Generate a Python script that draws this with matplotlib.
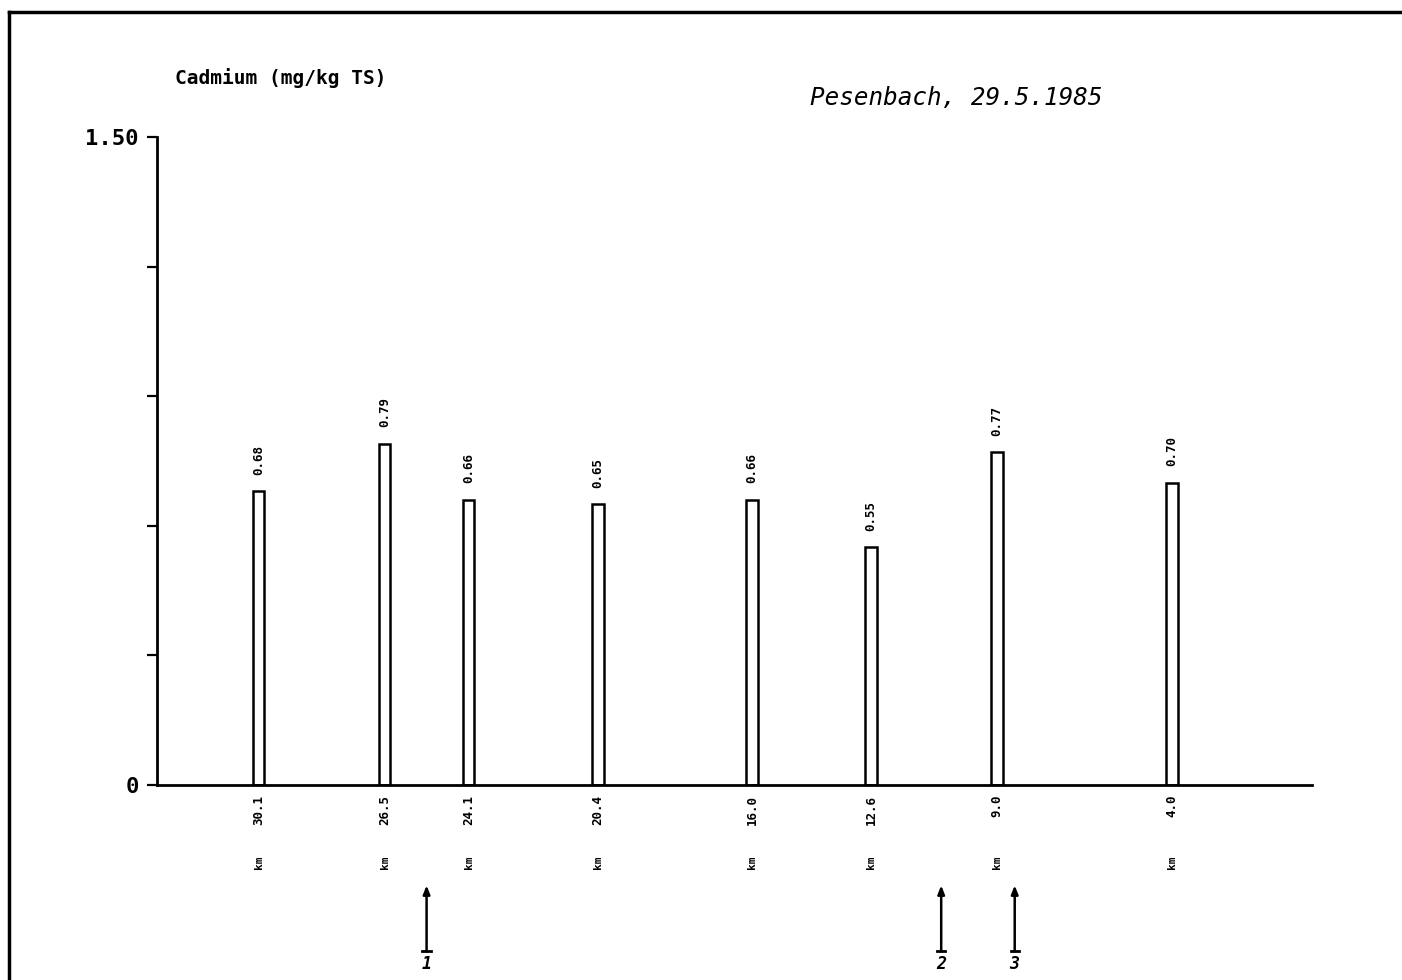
"""Cadmium in sediment along the Pesenbach, 29.5.1985."""

import matplotlib

matplotlib.use("Agg")

import matplotlib.pyplot as plt
from matplotlib.lines import Line2D

KM = [30.1, 26.5, 24.1, 20.4, 16.0, 12.6, 9.0, 4.0]
CADMIUM = [0.68, 0.79, 0.66, 0.65, 0.66, 0.55, 0.77, 0.70]
Y_TICKS = [0.0, 0.3, 0.6, 0.9, 1.2, 1.5]
Y_TICK_LABELS = ["0", "", "", "", "", "1.50"]
ARROW_KM = [25.3, 10.6, 8.5]
ARROW_LABELS = ["1", "2", "3"]

MONO = "DejaVu Sans Mono"


def main() -> None:
    fig = plt.figure(figsize=(14.02, 9.80), dpi=100)
    ax = fig.add_axes([0.112, 0.199, 0.824, 0.661])

    ax.bar(KM, CADMIUM, width=0.33, facecolor="white", edgecolor="black", linewidth=1.8)

    for km, val in zip(KM, CADMIUM):
        ax.annotate(f"{val:.2f}", (km, val), xytext=(0, 12), textcoords="offset points",
                    rotation=90, ha="center", va="bottom", fontsize=9,
                    fontweight="bold", family=MONO)

    ax.set_xlim(33.0, 0.0)
    ax.set_ylim(0, 1.5)

    ax.set_xticks(KM)
    ax.set_xticklabels([f"{k:.1f}" for k in KM], rotation=90, fontsize=9,
                       fontweight="bold", family=MONO)
    ax.tick_params(axis="x", length=0, pad=7)
    ax.set_yticks(Y_TICKS)
    ax.set_yticklabels(Y_TICK_LABELS, fontsize=16, fontweight="bold", family=MONO)
    ax.tick_params(axis="y", direction="out", length=7, width=1.6, pad=6)

    for side in ("top", "right"):
        ax.spines[side].set_visible(False)
    for side in ("left", "bottom"):
        ax.spines[side].set_linewidth(2.0)

    trans = ax.get_xaxis_transform()
    for km in KM:
        ax.text(km, -0.119, "km", transform=trans, rotation=90, ha="center",
                va="center", fontsize=8, fontweight="bold", family=MONO)

    for km, lab in zip(ARROW_KM, ARROW_LABELS):
        ax.annotate("", xy=(km, -0.155), xytext=(km, -0.257), xycoords=trans,
                    textcoords=trans, annotation_clip=False,
                    arrowprops=dict(arrowstyle="-|>,head_length=0.5,head_width=0.2",
                                    color="black", linewidth=1.8, shrinkA=0, shrinkB=0))
        ax.plot([km - 0.12, km + 0.12], [-0.257, -0.257], transform=trans,
                color="black", linewidth=2.0, clip_on=False)
        ax.text(km, -0.262, lab, transform=trans, ha="center", va="top",
                fontsize=12, fontweight="bold", fontstyle="italic", family=MONO)

    fig.text(0.125, 0.920, "Cadmium (mg/kg TS)", fontsize=14, family=MONO,
             fontweight="bold", ha="left", va="center")
    fig.text(0.578, 0.900, "Pesenbach, 29.5.1985", fontsize=17.5, family=MONO,
             fontstyle="italic", ha="left", va="center")

    # frame of the original sheet (left and top edges visible)
    fig.add_artist(Line2D([0.0065, 0.0065], [0.0, 0.988], color="black", linewidth=2.5))
    fig.add_artist(Line2D([0.0065, 1.0], [0.988, 0.988], color="black", linewidth=2.5))

    fig.savefig("out.png", dpi=100)
    plt.close(fig)


if __name__ == "__main__":
    main()
